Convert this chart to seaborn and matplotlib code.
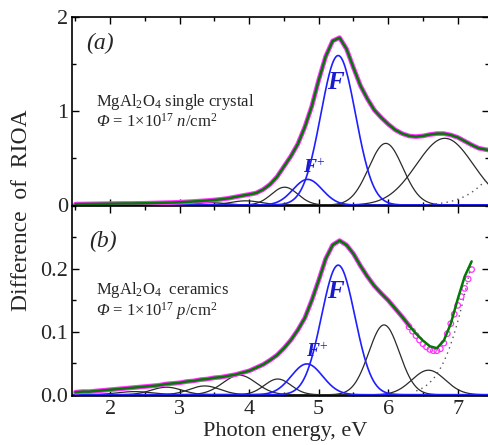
import numpy as np
import pandas as pd
import seaborn as sns
import matplotlib
matplotlib.use("Agg")
import matplotlib.pyplot as plt
from matplotlib.ticker import MultipleLocator

# ---------------- data ----------------
# (a) single crystal: measured difference spectrum / total fit (0.1 eV grid)
energy_a = [1.5, 1.6, 1.7, 1.8, 1.9, 2.0, 2.1, 2.2, 2.3, 2.4, 2.5, 2.6, 2.7, 2.8, 2.9,
            3.0, 3.1, 3.2, 3.3, 3.4, 3.5, 3.6, 3.7, 3.8, 3.9, 4.0, 4.1, 4.2, 4.3, 4.4,
            4.5, 4.6, 4.7, 4.8, 4.9, 5.0, 5.1, 5.2, 5.3, 5.4, 5.5, 5.6, 5.7, 5.8, 5.9,
            6.0, 6.1, 6.2, 6.3, 6.4, 6.5, 6.6, 6.7, 6.8, 6.9, 7.0, 7.1, 7.2, 7.3, 7.4, 7.45]
spectrum_a = [0.010, 0.011, 0.012, 0.013, 0.014, 0.015, 0.016, 0.017, 0.017, 0.018,
              0.019, 0.021, 0.023, 0.025, 0.027, 0.030, 0.034, 0.038, 0.043, 0.048,
              0.054, 0.062, 0.072, 0.086, 0.100, 0.113, 0.128, 0.165, 0.220, 0.300,
              0.410, 0.520, 0.650, 0.830, 1.050, 1.330, 1.580, 1.745, 1.780, 1.660,
              1.460, 1.270, 1.130, 1.010, 0.930, 0.860, 0.800, 0.760, 0.735, 0.728,
              0.735, 0.750, 0.760, 0.760, 0.745, 0.720, 0.680, 0.640, 0.605, 0.590, 0.585]

# (a) fitted Gaussian bands: centre (eV), height, width (sigma, eV)
bands_a_blue_center = [5.28, 4.84]          # F, F+
bands_a_blue_height = [1.59, 0.273]
bands_a_blue_sigma = [0.25, 0.21]
bands_a_black_center = [2.90, 3.45, 3.95, 4.51, 5.965, 6.815]
bands_a_black_height = [0.012, 0.025, 0.045, 0.19, 0.656, 0.71]
bands_a_black_sigma = [0.25, 0.22, 0.22, 0.19, 0.245, 0.41]
tail_a = (8.3, 1.0, 0.55)                   # dotted high-energy band

# (b) ceramics: total fit (0.1 eV grid)
energy_b = [1.5, 1.6, 1.7, 1.8, 1.9, 2.0, 2.1, 2.2, 2.3, 2.4, 2.5, 2.6, 2.7, 2.8, 2.9,
            3.0, 3.1, 3.2, 3.3, 3.4, 3.5, 3.6, 3.7, 3.8, 3.9, 4.0, 4.1, 4.2, 4.3, 4.4,
            4.5, 4.6, 4.7, 4.8, 4.9, 5.0, 5.1, 5.2, 5.3, 5.4, 5.5, 5.6, 5.7, 5.8, 5.9,
            6.0, 6.1, 6.2, 6.3, 6.4, 6.5, 6.6, 6.7, 6.8, 6.9, 7.0, 7.1, 7.2]
fit_b = [0.004, 0.005, 0.005, 0.006, 0.007, 0.008, 0.009, 0.010, 0.011, 0.012,
         0.013, 0.014, 0.015, 0.017, 0.018, 0.019, 0.021, 0.022, 0.024, 0.025,
         0.027, 0.028, 0.030, 0.032, 0.035, 0.038, 0.043, 0.048, 0.055, 0.063,
         0.074, 0.087, 0.103, 0.122, 0.150, 0.182, 0.216, 0.238, 0.245, 0.238,
         0.224, 0.205, 0.188, 0.173, 0.161, 0.150, 0.137, 0.124, 0.110, 0.097,
         0.086, 0.077, 0.074, 0.086, 0.113, 0.152, 0.188, 0.212]
# (b) measured points where they separate from the fit
meas_b_energy = [6.3, 6.35, 6.4, 6.45, 6.5, 6.55, 6.6, 6.65, 6.7, 6.75, 6.8, 6.85,
                 6.9, 6.95, 7.0, 7.05, 7.1, 7.15, 7.2]
meas_b_value = [0.108, 0.101, 0.094, 0.087, 0.081, 0.076, 0.072, 0.070, 0.070, 0.073,
                0.082, 0.097, 0.113, 0.128, 0.142, 0.156, 0.169, 0.184, 0.199]

bands_b_blue_center = [5.28, 4.83]
bands_b_blue_height = [0.206, 0.049]
bands_b_blue_sigma = [0.24, 0.225]
bands_b_black_center = [2.35, 2.81, 3.36, 3.86, 4.41, 5.94, 6.58]
bands_b_black_height = [0.005, 0.012, 0.014, 0.031, 0.025, 0.111, 0.039]
bands_b_black_sigma = [0.25, 0.22, 0.22, 0.24, 0.19, 0.22, 0.24]
tail_b = (7.7, 0.39, 0.45)

# ---------------- styling ----------------
sns.set_theme(style="ticks")
plt.rcParams["font.family"] = "serif"
plt.rcParams["font.serif"] = ["Liberation Serif", "DejaVu Serif"]
plt.rcParams["mathtext.fontset"] = "custom"
plt.rcParams["mathtext.rm"] = "Liberation Serif"
plt.rcParams["mathtext.it"] = "Liberation Serif:italic"
plt.rcParams["mathtext.sf"] = "Liberation Serif:italic"
plt.rcParams["mathtext.bf"] = "Liberation Serif:bold"
plt.rcParams["mathtext.bfit"] = "Liberation Serif:italic:bold"
plt.rcParams["xtick.direction"] = "in"
plt.rcParams["ytick.direction"] = "in"

BLUE = "#1f1fff"
BLACK = "#2a2a2a"
GREEN = "#007a00"
MAGENTA = "#ff33ff"
LABEL_BLUE = "#1a1acc"

fig = plt.figure(figsize=(4.89, 4.45), dpi=100)
W, H = 489.0, 445.0
ax_a = fig.add_axes([72 / W, 1 - 206 / H, 1 - 72 / W, (206 - 17) / H])
ax_b = fig.add_axes([72 / W, 1 - 396 / H, 1 - 72 / W, (396 - 206) / H])

grid = np.linspace(1.45, 7.45, 700)


def band(c, h, s, e):
    return h * np.exp(-0.5 * ((e - c) / s) ** 2)


def draw_bands(ax, centers, heights, sigmas, color, lw):
    for c, h, s in zip(centers, heights, sigmas):
        sns.lineplot(x=grid, y=band(c, h, s, grid), ax=ax, color=color, lw=lw)


# ---- panel (a) ----
draw_bands(ax_a, bands_a_black_center, bands_a_black_height, bands_a_black_sigma, BLACK, 0.9)
draw_bands(ax_a, bands_a_blue_center, bands_a_blue_height, bands_a_blue_sigma, BLUE, 1.2)
g_t = grid[grid >= 6.6]
sns.lineplot(x=g_t, y=band(*tail_a, g_t), ax=ax_a, color="#555555", lw=1.0, linestyle=(0, (1, 3)))
sns.lineplot(x=energy_a, y=spectrum_a, ax=ax_a, color=MAGENTA, lw=3.4)
sns.lineplot(x=energy_a, y=spectrum_a, ax=ax_a, color=GREEN, lw=1.8)

# ---- panel (b) ----
draw_bands(ax_b, bands_b_black_center, bands_b_black_height, bands_b_black_sigma, BLACK, 0.9)
draw_bands(ax_b, bands_b_blue_center, bands_b_blue_height, bands_b_blue_sigma, BLUE, 1.2)
g_t = grid[(grid >= 6.4) & (grid <= 7.2)]
sns.lineplot(x=g_t, y=band(*tail_b, g_t), ax=ax_b, color="#555555", lw=1.0, linestyle=(0, (1, 3)))
eb = np.array(energy_b)
fb = np.array(fit_b)
sns.lineplot(x=eb[eb <= 6.3], y=fb[eb <= 6.3], ax=ax_b, color=MAGENTA, lw=3.4)
sns.scatterplot(x=meas_b_energy, y=meas_b_value, ax=ax_b, marker="o", s=16,
                facecolors="none", edgecolor=MAGENTA, linewidth=0.9, zorder=3)
sns.lineplot(x=energy_b, y=fit_b, ax=ax_b, color=GREEN, lw=1.8, zorder=4)

# ---- axes formatting ----
for ax in (ax_a, ax_b):
    ax.set_xlim(1.45, 7.45)
    ax.xaxis.set_major_locator(MultipleLocator(1))
    ax.xaxis.set_minor_locator(MultipleLocator(0.5))
    ax.tick_params(which="both", top=True, right=True, direction="in",
                   labelsize=16, pad=3, color="black", width=1.0)
    ax.tick_params(which="major", length=5)
    ax.tick_params(which="minor", length=3)
    for sp in ax.spines.values():
        sp.set_color("black")
        sp.set_linewidth(1.2)
    ax.set_xlabel("")
    ax.set_ylabel("")

ax_a.set_ylim(-0.01, 2.0)
ax_a.yaxis.set_major_locator(MultipleLocator(1))
ax_a.yaxis.set_minor_locator(MultipleLocator(0.5))
ax_a.tick_params(labelbottom=False)

ax_b.set_ylim(-0.002, 0.30)
ax_b.yaxis.set_minor_locator(MultipleLocator(0.05))
ax_b.set_yticks([0.0, 0.1, 0.2])
ax_b.set_yticklabels(["0.0", "0.1", "0.2"])

# ---- texts ----
ax_a.text(1.66, 1.72, "(a)", fontsize=17, style="italic", ha="left", va="center")
ax_a.text(1.79, 1.0,
          "MgAl$_2$O$_4$ single crystal\n"
          r"$\mathsf{\Phi}$ = 1×10$^{17}$ $\mathit{n}$/cm$^2$",
          fontsize=12, ha="left", va="center", linespacing=1.05)
ax_a.text(5.25, 1.30, r"$\mathbfit{F}$", fontsize=18, color=LABEL_BLUE, ha="center", va="center")
ax_a.text(4.94, 0.40, r"$\mathbfit{F}^{+}$", fontsize=14, color=LABEL_BLUE, ha="center", va="center")

ax_b.text(1.69, 0.243, "(b)", fontsize=17, style="italic", ha="left", va="center")
ax_b.text(1.79, 0.149,
          "MgAl$_2$O$_4$  ceramics\n"
          r"$\mathsf{\Phi}$ = 1×10$^{17}$ $\mathit{p}$/cm$^2$",
          fontsize=12, ha="left", va="center", linespacing=1.05)
ax_b.text(5.25, 0.164, r"$\mathbfit{F}$", fontsize=18, color=LABEL_BLUE, ha="center", va="center")
ax_b.text(4.98, 0.068, r"$\mathbfit{F}^{+}$", fontsize=14, color=LABEL_BLUE, ha="center", va="center")

fig.text(21.5 / W, 1 - 210 / H, "Difference  of  RIOA", rotation=90, fontsize=17,
         ha="center", va="center")
fig.text(285 / W, 1 - 436 / H, "Photon energy, eV", fontsize=16, ha="center", va="baseline")

fig.savefig("out.png", dpi=100)
